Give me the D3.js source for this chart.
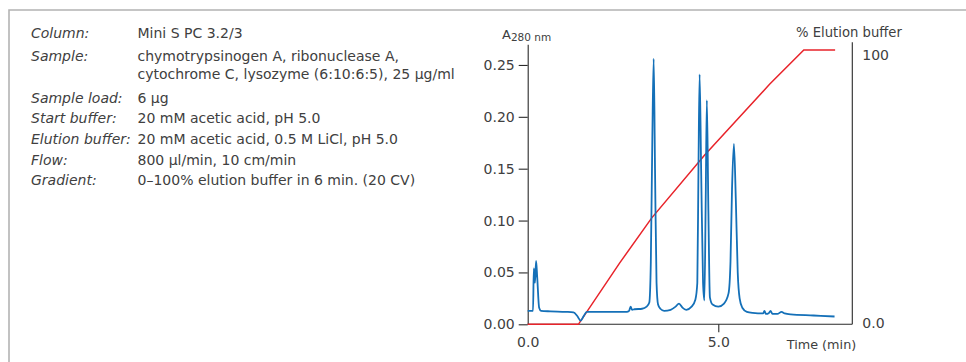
<!DOCTYPE html>
<html>
<head>
<meta charset="utf-8">
<script src="https://cdn.jsdelivr.net/npm/d3@7"></script>
<style>
  html, body { margin: 0; padding: 0; background: #fff; }
  svg { display: block; }
  text { font-family: "DejaVu Sans", "Liberation Sans", sans-serif; fill: #404040; }
</style>
</head>
<body>
<svg id="chart" width="966" height="362"></svg>
<script>
// ---- Data ----
const infoLabels = ["Column:", "Sample:", "", "Sample load:", "Start buffer:", "Elution buffer:", "Flow:", "Gradient:"];
const infoValues = [
  "Mini S PC 3.2/3",
  "chymotrypsinogen A, ribonuclease A,",
  "cytochrome C, lysozyme (6:10:6:5), 25 µg/ml",
  "6 µg",
  "20 mM acetic acid, pH 5.0",
  "20 mM acetic acid, 0.5 M LiCl, pH 5.0",
  "800 µl/min, 10 cm/min",
  "0–100% elution buffer in 6 min. (20 CV)"
];

// A280 trace (time in min, absorbance)
const absTime = [0.00, 0.14, 0.16, 0.19, 0.22, 0.25, 0.30, 0.35, 0.60, 1.00, 1.20, 1.30, 1.39, 1.47, 1.55, 2.00, 2.60, 2.66, 2.70, 2.74, 2.80, 3.00, 3.12, 3.19, 3.23, 3.27, 3.305, 3.34, 3.38, 3.42, 3.48, 3.58, 3.75, 3.88, 3.97, 4.06, 4.16, 4.30, 4.40, 4.45, 4.48, 4.51, 4.55, 4.60, 4.635, 4.67, 4.70, 4.74, 4.78, 4.85, 5.00, 5.15, 5.27, 5.32, 5.36, 5.41, 5.46, 5.51, 5.56, 5.63, 5.75, 5.90, 6.18, 6.21, 6.25, 6.33, 6.37, 6.42, 6.55, 6.66, 6.74, 6.90, 7.50, 8.05];
const absValue = [0.013, 0.013, 0.054, 0.040, 0.061, 0.045, 0.016, 0.013, 0.0125, 0.012, 0.0115, 0.008, 0.0035, 0.008, 0.012, 0.012, 0.012, 0.013, 0.017, 0.014, 0.0145, 0.015, 0.017, 0.021, 0.060, 0.180, 0.256, 0.150, 0.040, 0.019, 0.015, 0.013, 0.014, 0.017, 0.020, 0.016, 0.014, 0.017, 0.024, 0.040, 0.150, 0.241, 0.150, 0.040, 0.023, 0.120, 0.216, 0.110, 0.026, 0.019, 0.017, 0.020, 0.030, 0.060, 0.130, 0.174, 0.120, 0.050, 0.025, 0.016, 0.012, 0.011, 0.0105, 0.013, 0.010, 0.011, 0.013, 0.010, 0.010, 0.012, 0.0105, 0.0095, 0.0085, 0.0075];

// % elution buffer (time in min, percent)
const gradTime = [0.00, 1.33, 2.41, 3.255, 4.643, 6.345, 7.243, 8.065];
const gradValue = [0, 0, 22.3, 38.8, 61.7, 87.5, 100, 100];

// Tick values
const leftTicks = [0, 0.05, 0.10, 0.15, 0.20, 0.25];
const bottomTicks = [0, 5];
const rightTicks = [0, 100];

// ---- Drawing ----
const svg = d3.select("#chart");

// frame
svg.append("path")
  .attr("d", "M9,362 L9,10 L966,10")
  .attr("fill", "none").attr("stroke", "#b3b3b3").attr("stroke-width", 1.6);

// info panel
const info = svg.append("g").attr("font-size", "14px");
const rowY = [38, 60.5, 78.5, 102.5, 123, 143.5, 164.5, 185];
infoLabels.forEach((d, i) => {
  if (d) info.append("text").attr("x", 31).attr("y", rowY[i]).attr("font-style", "italic").text(d);
  info.append("text").attr("x", 137.5).attr("y", rowY[i]).text(infoValues[i]);
});

// scales
const x = d3.scaleLinear().domain([0, 8.5]).range([527.7, 851.7]);
const y = d3.scaleLinear().domain([0, 0.27]).range([324.3, 44.2]);
const yr = d3.scaleLinear().domain([0, 100]).range([324.3, 50]);

// axes
const gL = svg.append("g").attr("transform", `translate(${x(0)},0)`)
  .call(d3.axisLeft(y).tickValues(leftTicks).tickFormat(d3.format(".2f")).tickSize(9).tickPadding(4).tickSizeOuter(0));
const gB = svg.append("g").attr("transform", `translate(0,${y(0)})`)
  .call(d3.axisBottom(x).tickValues(bottomTicks).tickFormat(d3.format(".1f")).tickSize(8).tickPadding(5).tickSizeOuter(0));
const gR = svg.append("g").attr("transform", `translate(852.3,0)`)
  .call(d3.axisRight(yr).tickValues(rightTicks).tickFormat(d => d === 0 ? "0.0" : "100").tickSize(0).tickPadding(10).tickSizeOuter(0));

// extend right axis line up to 42.3
gR.select(".domain").attr("d", `M0,${yr(0)}V42.3`);
gB.select(".domain").attr("d", `M${x(0)},0H852.3`);

[gL, gB, gR].forEach(g => {
  g.select(".domain").attr("stroke", "#2a2a2a").attr("stroke-width", 1.1);
  g.selectAll(".tick line").attr("stroke", "#2a2a2a").attr("stroke-width", 1.1);
  g.selectAll(".tick text").attr("font-size", "14px").attr("font-family", "DejaVu Sans, sans-serif").attr("fill", "#404040");
});
gB.selectAll(".tick").filter(d => d === 0).select("line").remove();
gR.selectAll(".tick text").attr("dy", d => d === 0 ? "0.22em" : "0.7em");

// axis titles
const aT = svg.append("text").attr("x", 502).attr("y", 38.5).attr("font-size", "13px");
aT.append("tspan").text("A");
aT.append("tspan").attr("font-size", "10.5px").attr("dy", 2).text("280 nm");

svg.append("text").attr("x", 796).attr("y", 37).attr("font-size", "13.2px").text("% Elution buffer");
svg.append("text").attr("x", 821.5).attr("y", 348.5).attr("text-anchor", "middle")
  .attr("font-size", "12.8px").text("Time (min)");

// lines
const absData = absTime.map((t, i) => [t, absValue[i]]);
const gradData = gradTime.map((t, i) => [t, gradValue[i]]);

svg.append("path")
  .datum(gradData)
  .attr("fill", "none").attr("stroke", "#e8232a").attr("stroke-width", 1.5)
  .attr("d", d3.line().x(d => x(d[0])).y(d => yr(d[1])));

svg.append("path")
  .datum(absData)
  .attr("fill", "none").attr("stroke", "#1470b8").attr("stroke-width", 1.8).attr("stroke-linejoin", "round")
  .attr("d", d3.line().x(d => x(d[0])).y(d => y(d[1])).curve(d3.curveMonotoneX));
</script>
</body>
</html>
